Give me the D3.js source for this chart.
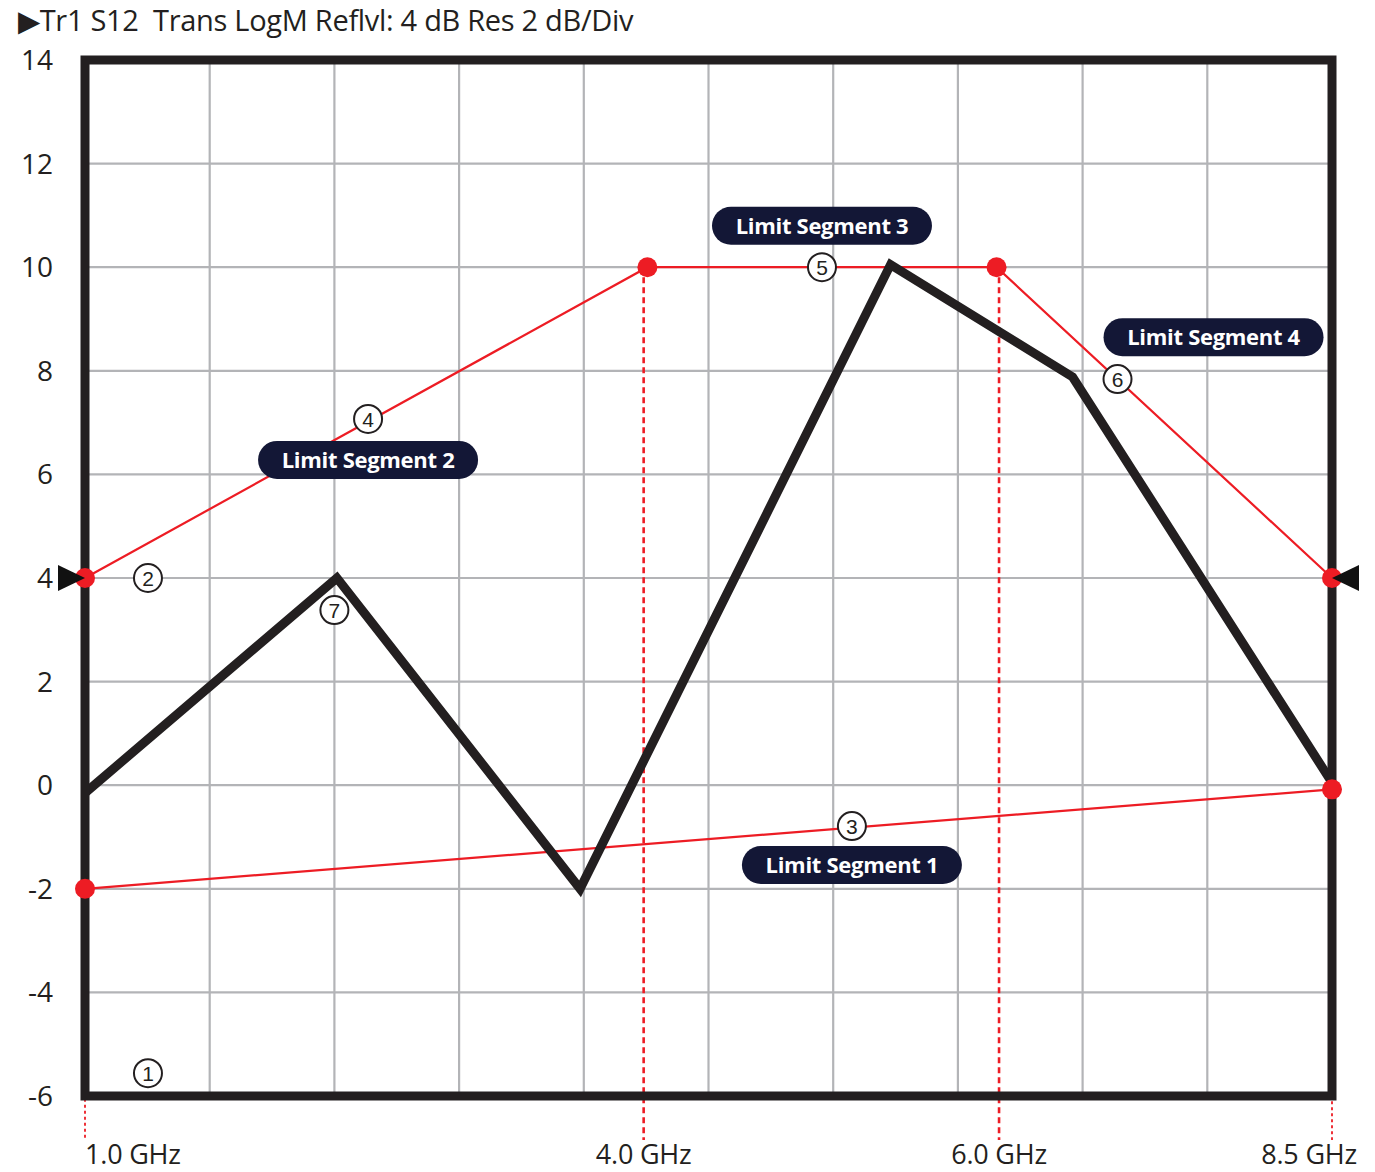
<!DOCTYPE html>
<html><head><meta charset="utf-8">
<script src="https://cdn.jsdelivr.net/npm/d3@7"></script>
<style>body{margin:0;background:#fff}svg{display:block}</style>
</head><body>
<svg id="chart" width="1375" height="1172"></svg>
<script>
// ---------- data ----------
const titleText = "\u25B6Tr1 S12  Trans LogM Reflvl: 4 dB Res 2 dB/Div";
const yTicks = [-6, -4, -2, 0, 2, 4, 6, 8, 10, 12, 14];
const xDivisions = [0, 1, 2, 3, 4, 5, 6, 7, 8, 9, 10];
const freqLabels = ["1.0 GHz", "4.0 GHz", "6.0 GHz", "8.5 GHz"];
const freqDiv = [0, 4.48, 7.33, 10];
const freqStartY = [-2, 10, 10, -0.08];
const traceX = [0, 2.02, 3.97, 6.46, 7.92, 10];
const traceY = [-0.15, 4.0, -2.0, 10.05, 7.88, 0.05];
const upperX = [0, 4.51, 7.31, 10];
const upperY = [4, 10, 10, 4];
const lowerX = [0, 10];
const lowerY = [-2, -0.08];
const segNames = ["Limit Segment 1", "Limit Segment 2", "Limit Segment 3", "Limit Segment 4"];
const segX = [6.15, 2.27, 5.91, 9.05];
const segY = [-1.54, 6.28, 10.8, 8.65];
const calloutNums = ["1", "2", "3", "4", "5", "6", "7"];
const calloutX = [0.505, 0.505, 6.15, 2.27, 5.91, 8.28, 2.0];
const calloutY = [-5.56, 4, -0.79, 7.07, 10, 7.84, 3.38];
const refLevel = 4;

// ---------- scales ----------
const svg = d3.select("#chart");
const x = d3.scaleLinear().domain([0, 10]).range([85, 1332]);
const y = d3.scaleLinear().domain([-6, 14]).range([1096, 60]);
const FONT = "'Open Sans', 'Noto Sans', sans-serif";
const RED = "#ed1c24", INK = "#231f20", NAVY = "#131736";

// title
svg.append("text").attr("x", 18).attr("y", 31)
  .style("white-space", "pre").attr("font-family", FONT).attr("font-size", 29)
  .attr("fill", INK).attr("letter-spacing", -0.3).text(titleText);

// grid
const g = svg.append("g");
g.selectAll("line.v").data(xDivisions).join("line")
  .attr("x1", d => x(d)).attr("x2", d => x(d)).attr("y1", y(14)).attr("y2", y(-6))
  .attr("stroke", "#b3b4b7").attr("stroke-width", 2.2);
g.selectAll("line.h").data(yTicks).join("line")
  .attr("y1", d => y(d)).attr("y2", d => y(d)).attr("x1", x(0)).attr("x2", x(10))
  .attr("stroke", "#b3b4b7").attr("stroke-width", 2.2);

// y labels
svg.selectAll("text.yl").data(yTicks).join("text")
  .attr("x", 53).attr("y", d => y(d)).attr("dy", "0.36em")
  .attr("text-anchor", "end").attr("font-family", FONT).attr("font-size", 28)
  .attr("fill", INK).text(d => d);

// dotted frequency markers
const fIdx = d3.range(freqLabels.length);
svg.selectAll("line.f").data(fIdx).join("line")
  .attr("x1", i => x(freqDiv[i])).attr("x2", i => x(freqDiv[i]))
  .attr("y1", i => y(freqStartY[i])).attr("y2", y(-6.85))
  .attr("stroke", RED)
  .attr("stroke-width", i => (i === 1 || i === 2) ? 2.6 : 1.8)
  .attr("stroke-dasharray", i => (i === 1 || i === 2) ? "6,4" : "3,3");

svg.selectAll("text.fl").data(fIdx).join("text")
  .attr("x", i => i === 3 ? x(freqDiv[i]) + 25 : x(freqDiv[i]))
  .attr("y", 1164)
  .attr("text-anchor", i => i === 0 ? "start" : (i === 3 ? "end" : "middle"))
  .attr("font-family", FONT).attr("font-size", 27).attr("letter-spacing", -0.2)
  .attr("fill", INK).text(i => freqLabels[i]);

// limit lines
const line = d3.line().x(d => x(d[0])).y(d => y(d[1]));
const upper = upperX.map((v, i) => [v, upperY[i]]);
const lower = lowerX.map((v, i) => [v, lowerY[i]]);
svg.append("path").attr("d", line(upper)).attr("fill", "none").attr("stroke", RED).attr("stroke-width", 2.2);
svg.append("path").attr("d", line(lower)).attr("fill", "none").attr("stroke", RED).attr("stroke-width", 2.2);

// trace
const trace = traceX.map((v, i) => [v, traceY[i]]);
svg.append("path").attr("d", line(trace)).attr("fill", "none").attr("stroke", INK)
  .attr("stroke-width", 9).attr("stroke-linejoin", "miter");

// frame
svg.append("rect").attr("x", x(0)).attr("y", y(14)).attr("width", x(10) - x(0)).attr("height", y(-6) - y(14))
  .attr("fill", "none").attr("stroke", INK).attr("stroke-width", 9);

// limit points
svg.selectAll("circle.lp").data(upper.concat(lower)).join("circle")
  .attr("cx", d => x(d[0])).attr("cy", d => y(d[1])).attr("r", 10).attr("fill", RED);

// reference level triangles
svg.append("path").attr("d", `M${x(0) - 27},${y(refLevel) - 13} L${x(0)},${y(refLevel)} L${x(0) - 27},${y(refLevel) + 13}Z`).attr("fill", "#111");
svg.append("path").attr("d", `M${x(10) + 27},${y(refLevel) - 13} L${x(10)},${y(refLevel)} L${x(10) + 27},${y(refLevel) + 13}Z`).attr("fill", "#111");

// callouts
const cIdx = d3.range(calloutNums.length);
const cg = svg.selectAll("g.c").data(cIdx).join("g")
  .attr("transform", i => `translate(${x(calloutX[i])},${y(calloutY[i])})`);
cg.append("circle").attr("r", 14).attr("fill", "#fff").attr("stroke", INK).attr("stroke-width", 2);
cg.append("text").attr("text-anchor", "middle").attr("dy", "0.36em")
  .attr("font-family", "'Liberation Sans', Arial, sans-serif").attr("font-size", 21)
  .attr("fill", INK).text(i => calloutNums[i]);

// segment pills
const sIdx = d3.range(segNames.length);
const pg = svg.selectAll("g.p").data(sIdx).join("g")
  .attr("transform", i => `translate(${x(segX[i])},${y(segY[i])})`);
pg.append("rect").attr("x", -110).attr("y", -19).attr("width", 220).attr("height", 38)
  .attr("rx", 19).attr("fill", NAVY);
pg.append("text").attr("text-anchor", "middle").attr("dy", "0.36em")
  .attr("font-family", FONT).attr("font-weight", 700).attr("font-size", 22)
  .attr("letter-spacing", -0.3).attr("fill", "#fff").text(i => segNames[i]);
</script>
</body></html>
